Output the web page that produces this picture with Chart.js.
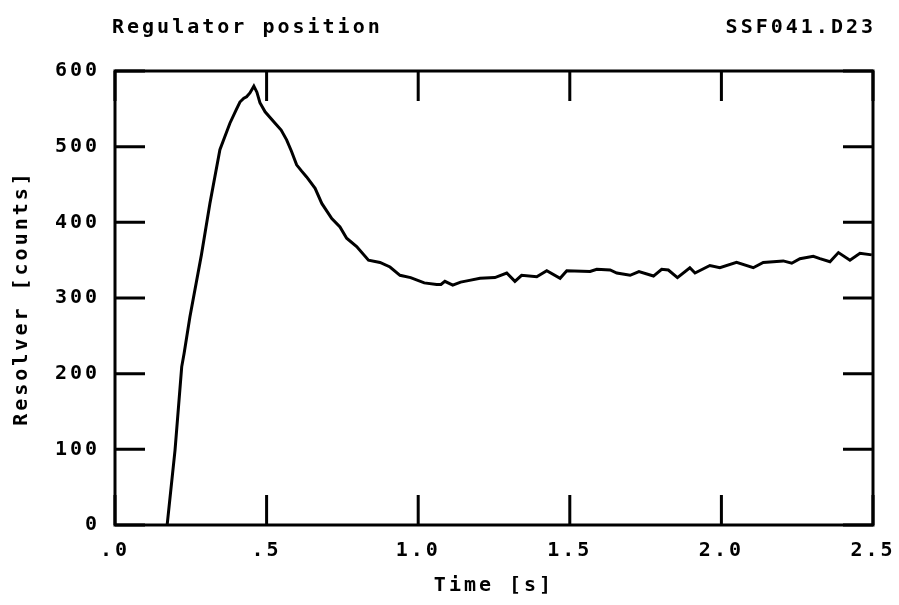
<!DOCTYPE html>
<html>
<head>
<meta charset="utf-8">
<script src="https://cdn.jsdelivr.net/npm/chart.js@4/dist/chart.umd.min.js"></script>
<style>
  html, body { margin: 0; padding: 0; background: #fff; }
  #wrap { width: 899px; height: 605px; position: relative; }
</style>
</head>
<body>
<div id="wrap"><canvas id="c" width="899" height="605"></canvas></div>
<script>
const chartTitle = 'Regulator position';
const fileLabel = 'SSF041.D23';
const xAxisTitle = 'Time [s]';
const yAxisTitle = 'Resolver [counts]';
const xTickLabels = ['.0', '.5', '1.0', '1.5', '2.0', '2.5'];
const xTickValues = [0, 0.5, 1.0, 1.5, 2.0, 2.5];
const yTickValues = [0, 100, 200, 300, 400, 500, 600];

const times = [0.172, 0.198, 0.220, 0.228, 0.247, 0.285, 0.313, 0.346, 0.379, 0.400, 0.412, 0.425, 0.434, 0.445, 0.458, 0.468, 0.478, 0.495, 0.528, 0.548, 0.566, 0.582, 0.599, 0.615, 0.632, 0.660, 0.682, 0.715, 0.742, 0.764, 0.797, 0.836, 0.874, 0.907, 0.940, 0.975, 1.020, 1.061, 1.075, 1.088, 1.114, 1.140, 1.165, 1.204, 1.253, 1.292, 1.319, 1.341, 1.391, 1.424, 1.468, 1.490, 1.567, 1.589, 1.633, 1.655, 1.699, 1.728, 1.776, 1.803, 1.825, 1.855, 1.896, 1.913, 1.962, 1.995, 2.050, 2.105, 2.138, 2.204, 2.232, 2.259, 2.303, 2.325, 2.358, 2.386, 2.424, 2.457, 2.496];
const counts = [0, 99, 209, 227, 275, 357, 425, 496, 531, 549, 559, 564, 566, 571, 580, 572, 558, 546, 531, 522, 509, 494, 476, 468, 460, 445, 425, 405, 394, 379, 368, 350, 347, 341, 330, 327, 320, 318, 318, 322, 317, 321, 323, 326, 327, 333, 322, 330, 328, 336, 326, 336, 335, 338, 337, 333, 330, 335, 329, 338, 337, 327, 340, 333, 343, 340, 347, 340, 347, 349, 346, 352, 355, 352, 348, 360, 350, 359, 357];

const points = times.map((t, i) => ({ x: t, y: counts[i] }));
const FONT = '"DejaVu Sans Mono", "Liberation Mono", monospace';
const SPACING = '3px';

const framePlugin = {
  id: 'frame',
  beforeLayout(chart) { chart.ctx.letterSpacing = SPACING; },
  beforeDraw(chart) { chart.ctx.letterSpacing = SPACING; },
  afterDraw(chart) {
    const ctx = chart.ctx;
    const a = chart.chartArea;
    const xs = chart.scales.x, ys = chart.scales.y;
    ctx.save();
    ctx.strokeStyle = '#000';
    ctx.lineWidth = 3;
    ctx.lineCap = 'butt';
    ctx.strokeRect(a.left, a.top, a.right - a.left, a.bottom - a.top);
    const L = 30;
    ctx.beginPath();
    xTickValues.forEach(v => {
      const px = xs.getPixelForValue(v);
      ctx.moveTo(px, a.bottom); ctx.lineTo(px, a.bottom - L);
      ctx.moveTo(px, a.top); ctx.lineTo(px, a.top + L);
    });
    yTickValues.forEach(v => {
      const py = ys.getPixelForValue(v);
      ctx.moveTo(a.left, py); ctx.lineTo(a.left + L, py);
      ctx.moveTo(a.right, py); ctx.lineTo(a.right - L, py);
    });
    ctx.stroke();
    ctx.fillStyle = '#000';
    ctx.letterSpacing = SPACING;
    ctx.font = 'bold 20px ' + FONT;
    ctx.textBaseline = 'middle';
    ctx.textAlign = 'left';
    ctx.fillText(chartTitle, 112, 28);
    ctx.textAlign = 'right';
    ctx.fillText(fileLabel, a.right + 3, 28);
    ctx.restore();
  }
};

new Chart(document.getElementById('c'), {
  type: 'scatter',
  data: {
    datasets: [{
      data: points,
      showLine: true,
      borderColor: '#000',
      borderWidth: 3,
      pointRadius: 0,
      tension: 0,
      fill: false
    }]
  },
  options: {
    responsive: false,
    animation: false,
    events: [],
    layout: { padding: { left: 0, right: 26, top: 71, bottom: 0 } },
    plugins: { legend: { display: false }, tooltip: { enabled: false } },
    scales: {
      x: {
        type: 'linear',
        min: 0, max: 2.5,
        afterBuildTicks(s) { s.ticks = xTickValues.map(v => ({ value: v })); },
        afterFit(s) { s.height = 80; s.paddingLeft = 0; s.paddingRight = 0; },
        grid: { display: false, drawTicks: false },
        border: { display: false },
        ticks: {
          color: '#000',
          padding: 14,
          maxRotation: 0,
          autoSkip: false,
          font: { family: FONT, size: 20, weight: 'bold' },
          callback: (v) => { const i = xTickValues.indexOf(v); return i >= 0 ? xTickLabels[i] : ''; }
        },
        title: {
          display: true,
          text: xAxisTitle,
          color: '#000',
          font: { family: FONT, size: 20, weight: 'bold' },
          padding: { top: 0, bottom: 7 }
        }
      },
      y: {
        type: 'linear',
        min: 0, max: 600,
        afterBuildTicks(s) { s.ticks = yTickValues.map(v => ({ value: v })); },
        afterFit(s) { s.width = 115; s.paddingTop = 0; s.paddingBottom = 0; },
        grid: { display: false, drawTicks: false },
        border: { display: false },
        ticks: {
          color: '#000',
          padding: 15,
          autoSkip: false,
          font: { family: FONT, size: 20, weight: 'bold' }
        },
        title: {
          display: true,
          text: yAxisTitle,
          color: '#000',
          font: { family: FONT, size: 20, weight: 'bold' },
          padding: { top: 10, bottom: 0 }
        }
      }
    }
  },
  plugins: [framePlugin]
});
</script>
</body>
</html>
